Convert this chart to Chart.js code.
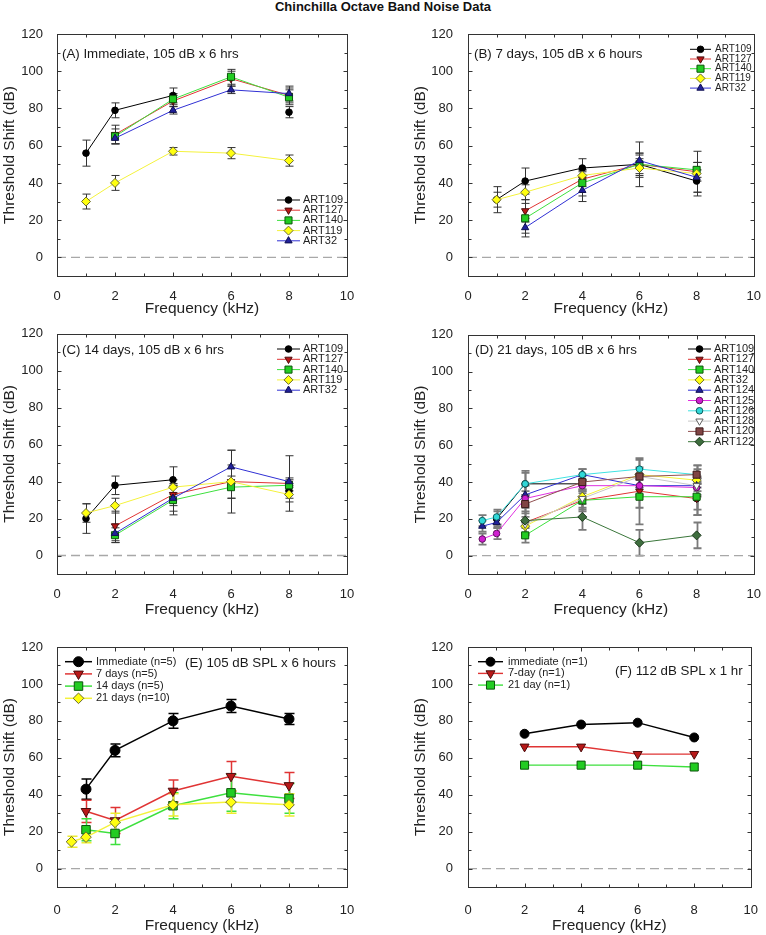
<!DOCTYPE html>
<html>
<head>
<meta charset="utf-8">
<title>Chinchilla Octave Band Noise Data</title>
<script src="https://cdn.jsdelivr.net/npm/chart.js@4.4.0/dist/chart.umd.min.js"></script>
<style>
  html, body { margin: 0; padding: 0; background: #fff; }
  #page { position: relative; width: 766px; height: 935px; overflow: hidden; font-family: Arial, "Liberation Sans", sans-serif; }
  #title { position: absolute; left: 0; top: 0; width: 766px; text-align: center; font-size: 13px; font-weight: bold; line-height: 13px; color: #111; }
  canvas { position: absolute; }
</style>
</head>
<body>
<div id="page">
  <div id="title">Chinchilla Octave Band Noise Data</div>
  <canvas id="panelA" width="383" height="320" style="left:0;top:0"></canvas>
  <canvas id="panelB" width="383" height="320" style="left:383px;top:0"></canvas>
  <canvas id="panelC" width="383" height="303" style="left:0;top:320px"></canvas>
  <canvas id="panelD" width="383" height="303" style="left:383px;top:320px"></canvas>
  <canvas id="panelE" width="383" height="312" style="left:0;top:623px"></canvas>
  <canvas id="panelF" width="383" height="312" style="left:383px;top:623px"></canvas>
</div>
<script>
// --- tick labels ---
const xTickVals = [0, 2, 4, 6, 8, 10];
const yTickVals = [0, 20, 40, 60, 80, 100, 120];
const zeroX = [0, 10];

// --- panel A: immediate ---
const freqA = [1, 2, 4, 6, 8];
const art109A = [56, 79, 87, null, 78];
const art127A = [null, 66, 84, 96, 87];
const art140A = [null, 65, 85, 97, 86];
const art119A = [30, 40, 57, 56, 52];
const art32A = [null, 64, 79, 90, 88];
const art109AErr = [7, 4, 4, null, 3];
const art127AErr = [null, 5, 3, 4, 4];
const art140AErr = [null, 4, 3, 4, 4];
const art119AErr = [4, 4, 2, 3, 3];
const art32AErr = [null, 3, 2, 2, 4];

// --- panel B: 7 days ---
const freqB = [1, 2, 4, 6, 8];
const art109B = [31, 41, 48, 50, 41];
const art127B = [null, 25, 42, 50, 46];
const art140B = [null, 21, 40, 50, 47];
const art119B = [31, 35, 44, 48, 45];
const art32B = [null, 16, 36, 52, 43];
const art109BErr = [7, 7, 5, 12, 6];
const art127BErr = [null, 6, 4, 6, 5];
const art140BErr = [null, 8, 7, 5, 4];
const art119BErr = [4, 4, 3, 5, 12];
const art32BErr = [null, 5, 6, 4, 8];

// --- panel C: 14 days ---
const freqC = [1, 2, 4, 6, 8];
const art109C = [20, 38, 41, null, 35];
const art127C = [null, 16, 33, 40, 39];
const art140C = [null, 11, 30, 37, 38];
const art119C = [23, 27, 37, 40, 33];
const art32C = [null, 12, 31, 48, 40];
const art109CErr = [8, 5, 7, null, 4];
const art127CErr = [null, 8, 6, 9, 15];
const art140CErr = [null, 4, 8, 6, 3];
const art119CErr = [5, 4, 4, 17, 4];
const art32CErr = [null, 5, 7, 9, 2];

// --- panel D: 21 days ---
const freqD = [0.5, 1, 2, 4, 6, 8];
const art109D = [null, 20, 39, 39, null, 31];
const art127D = [null, null, 18, 30, 35, 31];
const art140D = [null, null, 11, 30, 32, 32];
const art32D = [null, null, 16, 32, 44, 41];
const art124D = [16, 18, 33, 44, 38, 38];
const art125D = [9, 12, 31, 38, 38, 37];
const art126D = [19, 21, 39, 44, 47, 44];
const art128D = [null, null, 17, 31, 43, 38];
const art120D = [null, null, 28, 40, 43, 44];
const art122D = [null, null, 19, 21, 7, 11];
const art109DErr = [null, 4, 6, 5, null, 6];
const art127DErr = [null, null, 6, 5, 9, 9];
const art140DErr = [null, null, 4, 6, 15, 10];
const art32DErr = [null, null, 5, 6, 8, 6];
const art124DErr = [3, 3, 5, 3, 6, 5];
const art125DErr = [3, 3, 4, 3, 5, 5];
const art126DErr = [3, 4, 7, 3, 6, 5];
const art120DErr = [null, null, 5, 4, 5, 5];
const art122DErr = [null, null, 7, 7, 7, 7];

// --- panel E: group means, 105 dB SPL x 6 hours ---
const freqE = [1, 2, 4, 6, 8];
const freqE21 = [0.5, 1, 2, 4, 6, 8];
const immE = [43, 64, 80, 88, 81];
const d7E = [31, 26, 42, 50, 45];
const d14E = [21, 19, 34, 41, 38];
const d21E = [14.5, 17, 25, 34.5, 36, 34.5];
const immEErr = [5.5, 3.5, 4, 3.5, 3];
const d7EErr = [6, 7, 6, 8, 7];
const d14EErr = [6, 6, 7, 10, 8];
const d21EErr = [3, 3, 5, 6, 6, 6];

// --- panel F: 112 dB SPL x 1 hr ---
const freqF = [2, 4, 6, 8];
const immF = [73, 78, 79, 71];
const d7F = [66, 66, 62, 62];
const d21F = [56, 56, 56, 55];

const FONT = 'Arial, "Liberation Sans", sans-serif';

// look of each symbol/line type
const STY = {
  black:   { line: '#000000', fill: '#000000', edge: '#000000', shape: 'circle' },
  red:     { line: '#e03434', fill: '#b81818', edge: '#4a0c0c', shape: 'triangle', rot: 180 },
  green:   { line: '#3ee03e', fill: '#22cc22', edge: '#0c560c', shape: 'rect' },
  yellow:  { line: '#f4f23c', fill: '#ffff10', edge: '#6a6a30', shape: 'rectRot' },
  blue:    { line: '#3030d4', fill: '#20209a', edge: '#101050', shape: 'triangle' },
  magenta: { line: '#e030e0', fill: '#d020d0', edge: '#601060', shape: 'circle' },
  cyan:    { line: '#40e2e2', fill: '#30d8d8', edge: '#0e5c5c', shape: 'circle' },
  gray:    { line: '#c8c8c8', fill: '#ffffff', edge: '#606060', shape: 'triangle', rot: 180 },
  brown:   { line: '#905050', fill: '#804444', edge: '#3c1c1c', shape: 'rect' },
  dkgreen: { line: '#3a763a', fill: '#3e6e3e', edge: '#1a361a', shape: 'rectRot' }
};
const SMALL = { circle: 3.3, triangle: 4.2, rect: 5, rectRot: 4.5, lw: 1 };
const BIG = { circle: 5, triangle: 5.6, rect: 6, rectRot: 5.3, lw: 1.5 };
const MID = { circle: 4.5, triangle: 5.2, rect: 5.7, rectRot: 5, lw: 1.4 };

function series(label, xs, ys, errs, st, size, errColor) {
    return {
        label: label,
        data: xs.map((x, i) => ({ x: x, y: ys[i] })),
        errors: errs,
        errColor: errColor,
        borderColor: st.line,
        backgroundColor: st.fill,
        borderWidth: size.lw,
        pointBackgroundColor: st.fill,
        pointBorderColor: st.edge,
        pointBorderWidth: 1,
        pointStyle: st.shape,
        pointRotation: st.rot || 0,
        pointRadius: size[st.shape],
        pointHoverRadius: size[st.shape],
        spanGaps: false,
        tension: 0
    };
}

// fallback marker drawing if helpers are not exposed
function drawMarker(ctx, ds, x, y) {
    if (Chart.helpers && Chart.helpers.drawPoint) {
        Chart.helpers.drawPoint(ctx, { pointStyle: ds.pointStyle, rotation: ds.pointRotation, radius: ds.pointRadius, borderWidth: ds.pointBorderWidth }, x, y);
        return;
    }
    const r = ds.pointRadius;
    ctx.beginPath();
    ctx.arc(x, y, r, 0, Math.PI * 2);
    ctx.fill();
    ctx.stroke();
}

// --- plugins ---
const errorBars = {
    id: 'errorBars',
    beforeDatasetsDraw(chart, args, o) {
        const { ctx, scales: { x, y } } = chart;
        ctx.save();
        ctx.lineWidth = o.width;
        chart.data.datasets.forEach(ds => {
            if (!ds.errors) return;
            ctx.strokeStyle = ds.errColor || o.color;
            ds.data.forEach((p, i) => {
                const e = ds.errors[i];
                if (p.y == null || e == null) return;
                const px = Math.round(x.getPixelForValue(p.x)) + 0.5;
                const top = y.getPixelForValue(p.y + e);
                const bot = y.getPixelForValue(p.y - e);
                ctx.beginPath();
                ctx.moveTo(px, top); ctx.lineTo(px, bot);
                ctx.moveTo(px - o.cap, top); ctx.lineTo(px + o.cap, top);
                ctx.moveTo(px - o.cap, bot); ctx.lineTo(px + o.cap, bot);
                ctx.stroke();
            });
        });
        ctx.restore();
    }
};

const frame = {
    id: 'frame',
    afterDatasetsDraw(chart) {
        const { ctx, chartArea: a, scales: { x, y } } = chart;
        ctx.save();
        ctx.strokeStyle = '#333';
        ctx.lineWidth = 1;
        const l = Math.round(a.left) + 0.5, r = Math.round(a.right) + 0.5;
        const t = Math.round(a.top) + 0.5, b = Math.round(a.bottom) + 0.5;
        ctx.strokeRect(l, t, r - l, b - t);
        ctx.beginPath();
        for (let v = 0; v <= 110; v += 10) {
            const py = Math.round(y.getPixelForValue(v)) + 0.5;
            const len = v % 20 === 0 ? 4 : 3;
            ctx.moveTo(l, py); ctx.lineTo(l + len, py);
            ctx.moveTo(r, py); ctx.lineTo(r - len, py);
        }
        for (let v = 1; v < 10; v++) {
            const px = Math.round(x.getPixelForValue(v)) + 0.5;
            const len = v % 2 === 0 ? 4 : 3;
            ctx.moveTo(px, t); ctx.lineTo(px, t + len);
            ctx.moveTo(px, b); ctx.lineTo(px, b - len);
        }
        ctx.stroke();
        ctx.restore();
    }
};

const boxLegend = {
    id: 'boxLegend',
    afterDraw(chart, args, o) {
        const { ctx } = chart;
        ctx.save();
        ctx.font = o.font + 'px ' + FONT;
        ctx.textBaseline = 'middle';
        ctx.textAlign = 'left';
        chart.data.datasets.filter(d => !d.noLegend).forEach((ds, i) => {
            const yy = o.y0 + i * o.dy - o.oy;
            ctx.strokeStyle = ds.borderColor;
            ctx.lineWidth = ds.borderWidth;
            ctx.beginPath();
            ctx.moveTo(o.x0 - o.ox, yy);
            ctx.lineTo(o.x1 - o.ox, yy);
            ctx.stroke();
            ctx.fillStyle = ds.pointBackgroundColor;
            ctx.strokeStyle = ds.pointBorderColor;
            ctx.lineWidth = ds.pointBorderWidth;
            drawMarker(ctx, ds, (o.x0 + o.x1) / 2 - o.ox, yy);
            ctx.fillStyle = '#222';
            ctx.fillText(ds.label, o.tx - o.ox, yy);
        });
        ctx.restore();
    }
};

const panelLabel = {
    id: 'panelLabel',
    afterDraw(chart, args, o) {
        const { ctx } = chart;
        ctx.save();
        ctx.font = '13.3px ' + FONT;
        ctx.fillStyle = '#1a1a1a';
        ctx.textBaseline = 'middle';
        ctx.textAlign = 'left';
        ctx.fillText(o.text, o.x - o.ox, o.y - o.oy);
        ctx.restore();
    }
};

// --- layout boxes (page coordinates) ---
const ROWS = [
    { top: 0, height: 320, T: 34, B: 276, xPad: 5, xTitlePad: 2 },
    { top: 320, height: 303, T: 333, B: 574, xPad: 5, xTitlePad: 4 },
    { top: 623, height: 312, T: 647, B: 887, xPad: 8, xTitlePad: 0 }
];
const COLS = [
    { left: 0, width: 383, L: 57, R: 347, yTitlePad: 0, yPad: 6 },
    { left: 383, width: 383, L: 468, R: 758, yTitlePad: 28, yPad: 7 }
];

function makePanel(id, row, col, datasets, legend, label, err) {
    const rw = ROWS[row], cl = COLS[col];
    const zero = {
        label: 'zero',
        data: zeroX.map(x => ({ x: x, y: 0 })),
        borderColor: '#a8a8a8',
        borderWidth: 1.3,
        borderDash: [9, 5],
        pointRadius: 0,
        noLegend: true,
        order: 1000
    };
    datasets.forEach((d, i) => { d.order = datasets.length - i; });
    legend.ox = cl.left; legend.oy = rw.top;
    label.ox = cl.left; label.oy = rw.top;
    const tickFont = { family: FONT, size: 13 };
    const titleFont = { family: FONT, size: 15.5 };

    new Chart(document.getElementById(id), {
        type: 'line',
        data: { datasets: [zero].concat(datasets) },
        options: {
            responsive: false,
            animation: false,
            events: [],
            layout: { padding: { top: rw.T - rw.top, right: cl.left + cl.width - cl.R, bottom: 0, left: 0 } },
            scales: {
                x: {
                    type: 'linear', min: 0, max: 10,
                    grid: { display: false },
                    border: { display: false },
                    afterBuildTicks: s => { s.ticks = xTickVals.map(v => ({ value: v })); },
                    afterFit: s => { s.height = rw.top + rw.height - rw.B; },
                    ticks: { font: tickFont, color: '#222', padding: rw.xPad, maxRotation: 0 },
                    title: { display: true, text: 'Frequency (kHz)', font: titleFont, color: '#222', padding: { top: 0, bottom: rw.xTitlePad } }
                },
                y: {
                    type: 'linear', min: -10, max: 120,
                    grid: { display: false },
                    border: { display: false },
                    afterBuildTicks: s => { s.ticks = yTickVals.map(v => ({ value: v })); },
                    afterFit: s => { s.width = cl.L - cl.left; },
                    ticks: { font: tickFont, color: '#222', padding: cl.yPad },
                    title: { display: true, text: 'Threshold Shift (dB)', font: titleFont, color: '#222', padding: { top: cl.yTitlePad, bottom: 0 } }
                }
            },
            plugins: {
                legend: { display: false },
                tooltip: { enabled: false },
                errorBars: err,
                boxLegend: legend,
                panelLabel: label
            }
        },
        plugins: [errorBars, frame, boxLegend, panelLabel]
    });
}

const ERR_SMALL = { color: '#333', width: 1, cap: 4 };

// --- A ---
makePanel('panelA', 0, 0, [
    series('ART109', freqA, art109A, art109AErr, STY.black, SMALL),
    series('ART127', freqA, art127A, art127AErr, STY.red, SMALL),
    series('ART140', freqA, art140A, art140AErr, STY.green, SMALL),
    series('ART119', freqA, art119A, art119AErr, STY.yellow, SMALL),
    series('ART32', freqA, art32A, art32AErr, STY.blue, SMALL)
], { x0: 277, x1: 300, tx: 303, y0: 200, dy: 10.2, font: 11 },
   { text: '(A) Immediate, 105 dB x 6 hrs', x: 62, y: 54 }, ERR_SMALL);

// --- B ---
makePanel('panelB', 0, 1, [
    series('ART109', freqB, art109B, art109BErr, STY.black, SMALL),
    series('ART127', freqB, art127B, art127BErr, STY.red, SMALL),
    series('ART140', freqB, art140B, art140BErr, STY.green, SMALL),
    series('ART119', freqB, art119B, art119BErr, STY.yellow, SMALL),
    series('ART32', freqB, art32B, art32BErr, STY.blue, SMALL)
], { x0: 690, x1: 711, tx: 715, y0: 49.3, dy: 9.7, font: 10 },
   { text: '(B) 7 days, 105 dB x 6 hours', x: 474, y: 54 }, ERR_SMALL);

// --- C ---
makePanel('panelC', 1, 0, [
    series('ART109', freqC, art109C, art109CErr, STY.black, SMALL),
    series('ART127', freqC, art127C, art127CErr, STY.red, SMALL),
    series('ART140', freqC, art140C, art140CErr, STY.green, SMALL),
    series('ART119', freqC, art119C, art119CErr, STY.yellow, SMALL),
    series('ART32', freqC, art32C, art32CErr, STY.blue, SMALL)
], { x0: 277, x1: 300, tx: 303, y0: 349, dy: 10.3, font: 11 },
   { text: '(C) 14 days, 105 dB x 6 hrs', x: 62, y: 350 }, ERR_SMALL);

// --- D ---
makePanel('panelD', 1, 1, [
    series('ART109', freqD, art109D, art109DErr, STY.black, SMALL),
    series('ART127', freqD, art127D, art127DErr, STY.red, SMALL),
    series('ART140', freqD, art140D, art140DErr, STY.green, SMALL),
    series('ART32', freqD, art32D, art32DErr, STY.yellow, SMALL),
    series('ART124', freqD, art124D, art124DErr, STY.blue, SMALL),
    series('ART125', freqD, art125D, art125DErr, STY.magenta, SMALL),
    series('ART126', freqD, art126D, art126DErr, STY.cyan, SMALL),
    series('ART128', freqD, art128D, null, STY.gray, SMALL),
    series('ART120', freqD, art120D, art120DErr, STY.brown, SMALL),
    series('ART122', freqD, art122D, art122DErr, STY.dkgreen, SMALL)
], { x0: 688, x1: 711, tx: 714, y0: 349, dy: 10.3, font: 11 },
   { text: '(D) 21 days, 105 dB x 6 hrs', x: 475, y: 350 }, { color: '#7a7a7a', width: 1.8, cap: 4 });

// --- E ---
makePanel('panelE', 2, 0, [
    series('Immediate (n=5)', freqE, immE, immEErr, STY.black, BIG, '#000'),
    series('7 days (n=5)', freqE, d7E, d7EErr, STY.red, BIG, '#e03434'),
    series('14 days (n=5)', freqE, d14E, d14EErr, STY.green, BIG, '#3ee03e'),
    series('21 days (n=10)', freqE21, d21E, d21EErr, STY.yellow, BIG, '#ecec30')
], { x0: 65, x1: 92, tx: 96, y0: 661.7, dy: 12.2, font: 11 },
   { text: '(E) 105 dB SPL x 6 hours', x: 185, y: 663 }, { color: '#000', width: 1.5, cap: 5 });

// --- F ---
makePanel('panelF', 2, 1, [
    series('immediate (n=1)', freqF, immF, null, STY.black, MID),
    series('7-day (n=1)', freqF, d7F, null, STY.red, MID),
    series('21 day (n=1)', freqF, d21F, null, STY.green, MID)
], { x0: 478, x1: 503, tx: 508, y0: 661.7, dy: 11.7, font: 11 },
   { text: '(F) 112 dB SPL x 1 hr', x: 615, y: 671 }, { color: '#000', width: 1.5, cap: 5 });
</script>
</body>
</html>
